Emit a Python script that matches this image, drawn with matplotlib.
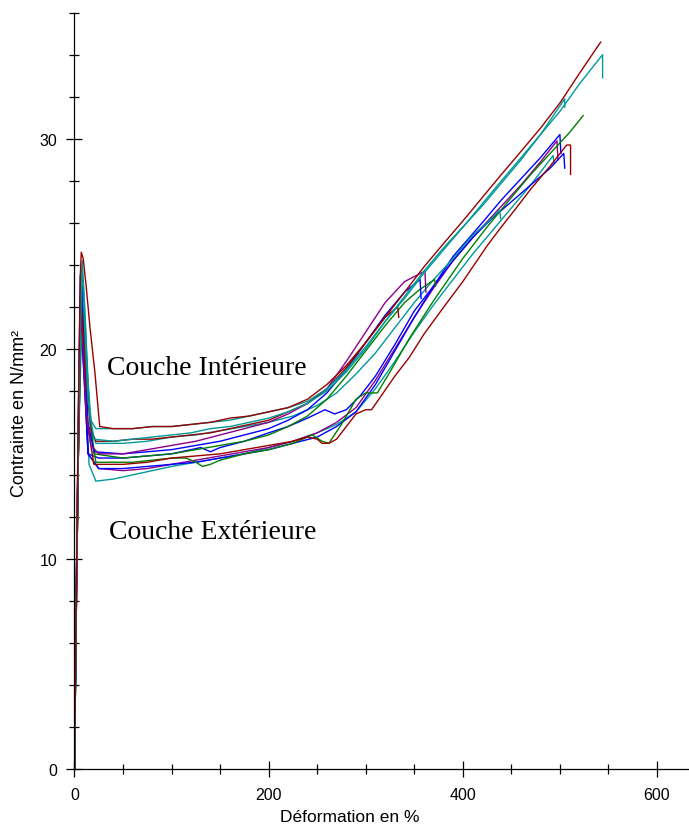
import matplotlib
matplotlib.use("Agg")
import matplotlib.pyplot as plt
from matplotlib.ticker import MultipleLocator

# ---- data (strain %, stress N/mm²) ----
R1_x = [0, 2, 4, 6, 7, 9, 12, 16, 21, 26, 40, 60, 80, 100, 120, 140, 160, 180, 200, 220, 240, 260, 280, 300,
        320, 340, 360, 380, 404, 420, 438, 460, 480, 500, 520, 542]
R1_y = [0, 9, 17, 23.5, 24.6, 24.3, 23.0, 21.0, 18.9, 16.3, 16.2, 16.2, 16.3, 16.3, 16.4, 16.5, 16.7, 16.8, 17.0,
        17.2, 17.6, 18.3, 19.2, 20.3, 21.5, 22.7, 23.9, 25.0, 26.3, 27.2, 28.2, 29.4, 30.5, 31.7, 33.1, 34.6]

T1_x = [0, 2, 4, 7, 8, 10, 13, 17, 22, 40, 60, 80, 100, 120, 140, 160, 180, 200, 220, 240, 260, 280, 300, 320,
        340, 360, 380, 404, 420, 438, 460, 480, 500, 520, 544, 544]
T1_y = [0, 9, 17, 23.5, 24.2, 22.5, 19.0, 16.6, 16.2, 16.2, 16.2, 16.3, 16.3, 16.4, 16.5, 16.6, 16.8, 17.0, 17.2,
        17.5, 18.1, 19.0, 20.1, 21.3, 22.4, 23.6, 24.7, 26.0, 26.9, 27.9, 29.1, 30.2, 31.3, 32.6, 34.0, 32.9]

T2_x = [0, 2, 4, 7, 8, 10, 14, 20, 40, 60, 80, 100, 120, 140, 160, 180, 200, 220, 240, 260, 280, 300, 320, 340,
        360, 380, 400, 420, 440, 460, 480, 505, 505]
T2_y = [0, 9, 16, 23, 23.8, 21.5, 17.5, 15.7, 15.6, 15.7, 15.8, 15.9, 16.0, 16.2, 16.3, 16.5, 16.7, 17.0, 17.4,
        18.0, 18.9, 20.0, 21.3, 22.5, 23.7, 24.8, 25.8, 26.8, 27.9, 29.0, 30.2, 31.9, 31.5]

R2_x = [0, 2, 4, 6, 7, 9, 13, 18, 22, 40, 60, 80, 100, 120, 140, 160, 180, 200, 220, 240, 260, 280, 300, 320,
        333, 334]
R2_y = [0, 9, 16, 21, 22.0, 20.8, 18.0, 16.0, 15.6, 15.6, 15.7, 15.7, 15.8, 15.9, 16.0, 16.2, 16.4, 16.6, 17.0,
        17.4, 18.1, 19.1, 20.3, 21.5, 22.0, 21.5]

P1_x = [0, 2, 4, 6, 7, 9, 12, 17, 25, 50, 75, 100, 125, 150, 175, 200, 220, 240, 260, 280, 300, 320, 340, 361,
        362]
P1_y = [0, 8, 15, 20.5, 21.5, 20.0, 17.0, 15.4, 15.0, 15.0, 15.2, 15.4, 15.6, 15.9, 16.2, 16.5, 16.9, 17.4, 18.1,
        19.4, 20.8, 22.2, 23.2, 23.7, 22.7]

B1_x = [0, 2, 4, 6, 8, 10, 14, 20, 50, 75, 100, 125, 150, 175, 200, 220, 240, 260, 280, 300, 320, 340, 356, 357]
B1_y = [0, 9, 17, 23.5, 22.8, 20.5, 16.5, 15.1, 15.0, 15.1, 15.2, 15.4, 15.6, 15.9, 16.2, 16.6, 17.1, 17.9, 19.0,
        20.3, 21.6, 22.7, 23.3, 22.4]

G1_x = [0, 2, 4, 7, 8, 10, 14, 20, 50, 75, 100, 125, 150, 175, 200, 220, 240, 260, 280, 300, 320, 340, 355, 371,
        372]
G1_y = [0, 8, 15, 22, 23.0, 21.8, 17.5, 15.0, 14.8, 14.9, 15.0, 15.2, 15.4, 15.6, 15.9, 16.3, 16.8, 17.6, 18.7,
        19.9, 21.1, 22.2, 22.8, 23.3, 23.0]

T3_x = [0, 2, 4, 8, 9, 11, 16, 22, 50, 75, 100, 125, 150, 175, 200, 225, 250, 270, 290, 310, 330, 350, 370, 390,
        410, 425, 438, 439]
T3_y = [0, 8, 15, 22.3, 23.0, 21.5, 16.5, 15.5, 15.5, 15.6, 15.8, 15.9, 16.1, 16.3, 16.5, 16.8, 17.3, 17.9, 18.8,
        19.8, 21.0, 22.2, 23.3, 24.3, 25.4, 26.0, 26.6, 26.2]

R3_x = [0, 2, 4, 6, 7, 9, 13, 20, 50, 75, 100, 125, 150, 175, 200, 225, 240, 250, 255, 262, 270, 280, 290, 300,
        306, 315, 330, 345, 360, 379, 400, 425, 438, 455, 470, 490, 507, 511, 511]
R3_y = [0, 8, 15, 21, 21.8, 20.5, 16.5, 14.5, 14.5, 14.6, 14.8, 14.9, 15.0, 15.2, 15.4, 15.6, 15.8, 15.7, 15.5,
        15.5, 15.7, 16.3, 16.9, 17.1, 17.1, 17.7, 18.7, 19.6, 20.7, 21.9, 23.2, 24.9, 25.7, 26.7, 27.6, 28.7, 29.7,
        29.7, 28.3]

G2_x = [0, 2, 4, 7, 8, 10, 16, 22, 40, 60, 80, 100, 115, 125, 132, 140, 150, 175, 200, 225, 245, 255, 262, 275,
        290, 300, 312, 325, 345, 370, 400, 425, 450, 470, 490, 510, 524]
G2_y = [0, 8, 15, 22, 22.9, 21.5, 16.5, 14.6, 14.6, 14.6, 14.7, 14.8, 14.8, 14.6, 14.4, 14.5, 14.7, 15.0, 15.2,
        15.5, 15.9, 15.6, 15.5, 16.4, 17.6, 17.9, 17.9, 18.9, 20.5, 22.3, 24.3, 25.8, 27.2, 28.3, 29.3, 30.3, 31.1]

B2_x = [0, 2, 4, 6, 8, 10, 14, 25, 50, 75, 100, 125, 150, 175, 200, 225, 250, 270, 290, 310, 330, 350, 370, 390,
        420, 440, 460, 480, 500, 501]
B2_y = [0, 9, 16, 22.5, 21.8, 19.5, 15.0, 14.3, 14.3, 14.4, 14.5, 14.6, 14.8, 15.0, 15.2, 15.5, 15.8, 16.3, 17.0,
        18.3, 19.9, 21.5, 23.0, 24.4, 26.0, 27.1, 28.1, 29.1, 30.2, 29.3]

B3_x = [0, 2, 4, 6, 8, 10, 14, 25, 50, 75, 100, 120, 130, 140, 150, 175, 200, 220, 240, 258, 268, 280, 295, 310,
        330, 350, 370, 390, 410, 430, 450, 470, 490, 504, 505]
B3_y = [0, 9, 16, 21.0, 20.3, 18.5, 15.0, 14.8, 14.8, 14.9, 15.0, 15.2, 15.3, 15.1, 15.3, 15.6, 16.0, 16.3, 16.7,
        17.1, 16.9, 17.1, 17.8, 18.7, 20.2, 21.8, 23.0, 24.2, 25.3, 26.2, 27.0, 27.8, 28.6, 29.3, 28.6]

P2_x = [0, 2, 4, 6, 7, 9, 14, 25, 50, 75, 100, 125, 150, 175, 200, 225, 250, 270, 290, 310, 330, 350, 370, 390,
        420, 440, 460, 480, 497, 498]
P2_y = [0, 8, 15, 20, 20.8, 19.5, 15.0, 14.3, 14.2, 14.3, 14.5, 14.7, 14.9, 15.1, 15.3, 15.6, 16.0, 16.5, 17.2,
        18.5, 20.0, 21.5, 22.9, 24.2, 25.8, 26.8, 27.8, 28.9, 29.9, 29.0]

T4_x = [0, 2, 4, 7, 8, 10, 15, 22, 40, 60, 80, 100, 125, 150, 175, 200, 225, 250, 270, 290, 310, 330, 350, 370,
        390, 410, 430, 450, 470, 493, 494]
T4_y = [0, 8, 15, 21.5, 22.0, 20.0, 14.5, 13.7, 13.8, 14.0, 14.2, 14.4, 14.6, 14.8, 15.0, 15.3, 15.6, 16.0, 16.4,
        17.0, 18.1, 19.4, 20.8, 22.1, 23.3, 24.5, 25.6, 26.7, 27.8, 29.2, 28.8]

DARKRED = "#990000"
TEAL = "#009999"
BLUE = "#0000FF"
GREEN = "#008000"
PURPLE = "#8B008B"

curves = [
    (T4_x, T4_y, TEAL), (P2_x, P2_y, PURPLE), (B2_x, B2_y, BLUE),
    (B3_x, B3_y, BLUE), (G2_x, G2_y, GREEN), (R3_x, R3_y, DARKRED),
    (T3_x, T3_y, TEAL), (G1_x, G1_y, GREEN), (B1_x, B1_y, BLUE),
    (P1_x, P1_y, PURPLE), (R2_x, R2_y, DARKRED), (T2_x, T2_y, TEAL),
    (T1_x, T1_y, TEAL), (R1_x, R1_y, DARKRED),
]

fig = plt.figure(figsize=(6.89, 8.29), dpi=100)
ax = fig.add_axes([0.1081, 0.0712, 0.8919, 0.9835 - 0.0712])

for xs, ys, c in curves:
    ax.plot(xs, ys, color=c, lw=1.0)

ax.set_xlim(0, 633)
ax.set_ylim(0, 36)
ax.spines["top"].set_visible(False)
ax.spines["right"].set_visible(False)
for s in ("left", "bottom"):
    ax.spines[s].set_linewidth(0.9)

ax.xaxis.set_major_locator(MultipleLocator(200))
ax.xaxis.set_minor_locator(MultipleLocator(50))
ax.yaxis.set_major_locator(MultipleLocator(10))
ax.yaxis.set_minor_locator(MultipleLocator(2))
ax.tick_params(which="major", direction="inout", length=11, width=0.9, labelsize=11.5)
ax.tick_params(which="minor", direction="inout", length=7, width=0.9)
ax.tick_params(axis="x", which="major", pad=7.5)
ax.tick_params(axis="y", which="major", pad=7)
for lab in ax.get_xticklabels() + ax.get_yticklabels():
    lab.set_family("Liberation Sans")

ax.set_xlabel("Déformation en %", fontsize=12.5, family="Liberation Sans")
ax.set_ylabel("Contrainte en N/mm²", fontsize=13, family="Liberation Sans")
ax.xaxis.set_label_coords(0.448, -0.053)
ax.yaxis.set_label_coords(-0.076, 0.472)

ax.text(34, 19.1, "Couche Intérieure", family="Liberation Serif", fontsize=20,
        va="center", ha="left")
ax.text(36, 11.3, "Couche Extérieure", family="Liberation Serif", fontsize=20,
        va="center", ha="left")

fig.savefig("out.png", dpi=100)
